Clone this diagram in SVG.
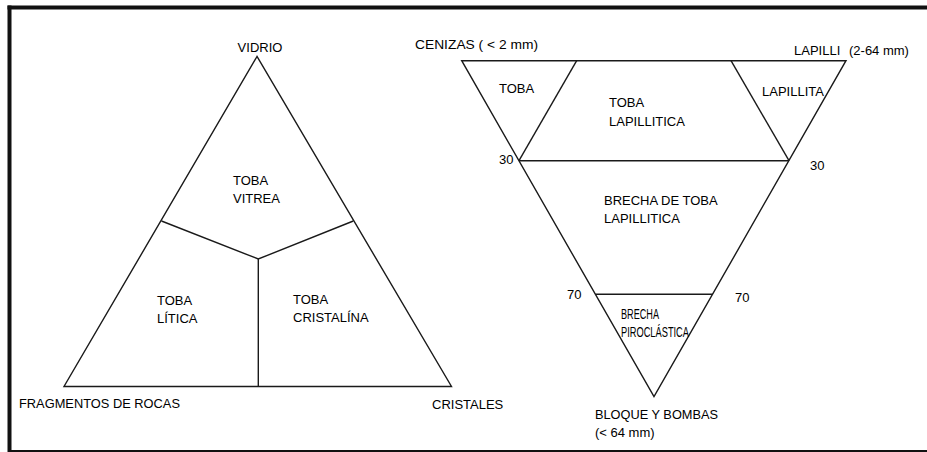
<svg xmlns="http://www.w3.org/2000/svg" width="927" height="452" viewBox="0 0 927 452">
<style>
.ln{fill:none;stroke:#1a1a1a;stroke-width:1.4;stroke-linejoin:miter}
text{font-family:"Liberation Sans",Arial,sans-serif;font-size:13px;fill:#000}
.sm{font-size:14px}
</style>
<rect width="927" height="452" fill="#fff"/>
<g id="frame">
<line x1="7.5" y1="7.5" x2="927" y2="7.5" stroke="#111" stroke-width="4"/>
<line x1="9.5" y1="5.5" x2="9.5" y2="452" stroke="#111" stroke-width="4"/>
<line x1="9" y1="451" x2="927" y2="451" stroke="#111" stroke-width="2"/>
</g>
<g id="connectors">
<polygon class="ln" points="257,56.5 64,386.5 451.5,386.5"/>
<polyline class="ln" points="161.5,221 258.3,259 353.3,221"/>
<line class="ln" x1="258.3" y1="259" x2="258.3" y2="386.5"/>
<polygon class="ln" points="461.7,60.7 846,60.7 654,396.7"/>
<line class="ln" x1="576.7" y1="60.7" x2="519" y2="160.7"/>
<line class="ln" x1="731" y1="60.7" x2="789" y2="160.7"/>
<line class="ln" x1="519" y1="160.7" x2="789" y2="160.7"/>
<line class="ln" x1="595.5" y1="294.3" x2="712.5" y2="294.3"/>
</g>
<g id="vidrio"><text x="260" y="52" text-anchor="middle">VIDRIO</text></g>
<g id="toba-vitrea"><text x="233" y="185">TOBA</text><text x="233" y="203">VITREA</text></g>
<g id="toba-litica"><text x="157" y="305">TOBA</text><text x="157" y="323">LÍTICA</text></g>
<g id="toba-cristalina"><text x="293" y="304">TOBA</text><text x="293" y="322">CRISTALÍNA</text></g>
<g id="fragmentos"><text x="19" y="408" textLength="161" lengthAdjust="spacingAndGlyphs">FRAGMENTOS DE ROCAS</text></g>
<g id="cristales"><text x="432" y="409">CRISTALES</text></g>
<g id="cenizas"><text x="415" y="49" textLength="123" lengthAdjust="spacingAndGlyphs">CENIZAS ( &lt; 2 mm)</text></g>
<g id="lapilli"><text x="794" y="55">LAPILLI</text><text x="849" y="55">(2-64 mm)</text></g>
<g id="toba"><text x="499" y="93">TOBA</text></g>
<g id="toba-lapillitica"><text x="609" y="107">TOBA</text><text x="609" y="126">LAPILLITICA</text></g>
<g id="lapillita"><text x="762" y="96">LAPILLITA</text></g>
<g id="n30a"><text x="499" y="164">30</text></g>
<g id="n30b"><text x="810" y="170">30</text></g>
<g id="brecha-toba"><text x="604" y="205">BRECHA DE TOBA</text><text x="604" y="223">LAPILLITICA</text></g>
<g id="n70a"><text x="567" y="299">70</text></g>
<g id="n70b"><text x="735" y="302">70</text></g>
<g id="brecha-piro"><text class="sm" x="621" y="319" textLength="38" lengthAdjust="spacingAndGlyphs">BRECHA</text><text class="sm" x="621" y="337" textLength="68" lengthAdjust="spacingAndGlyphs">PIROCLÁSTICA</text></g>
<g id="bloque"><text x="595" y="419" textLength="123" lengthAdjust="spacingAndGlyphs">BLOQUE Y BOMBAS</text><text x="595" y="437">(&lt; 64 mm)</text></g>
</svg>
